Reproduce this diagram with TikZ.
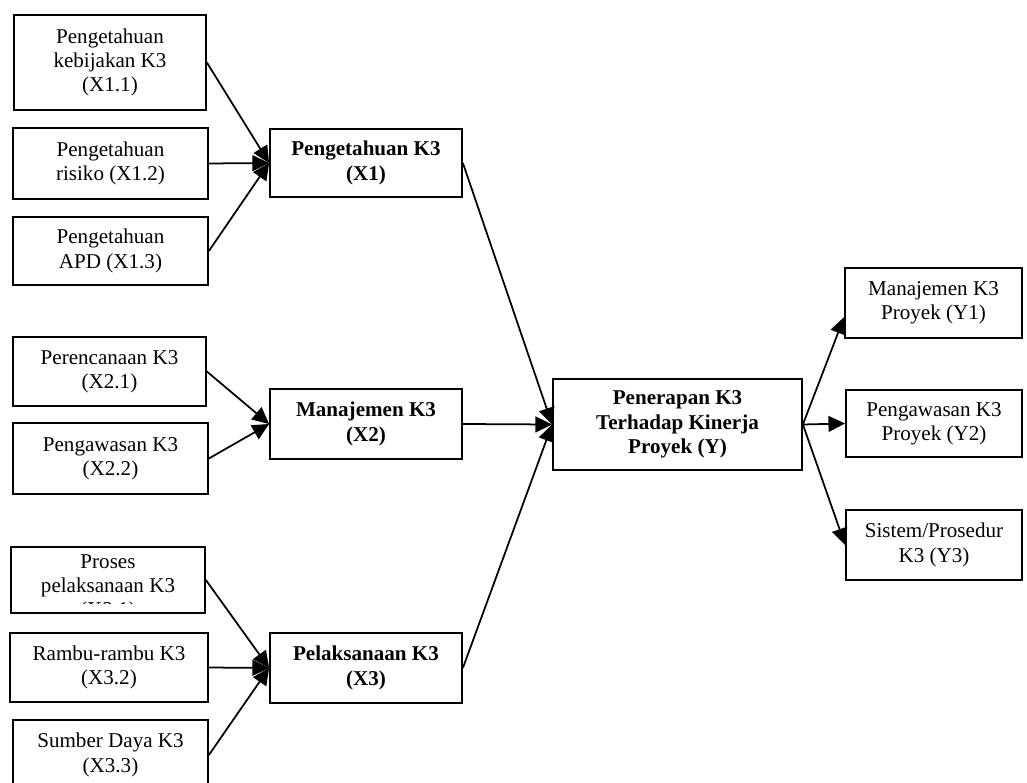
\documentclass[tikz,border=0pt]{standalone}
\usepackage{fontspec}
\setmainfont{Liberation Serif}
\usetikzlibrary{arrows.meta}
\tikzset{
  sz/.style 2 args={minimum width=#1*0.02cm, minimum height=#2*0.02cm},
  indik/.style={draw, line width=1pt, align=center, inner sep=0pt,
    font=\fontsize{12}{13.8}\selectfont},
  varbox/.style={indik, font=\fontsize{12}{13.8}\selectfont\bfseries},
  link/.style={line width=1pt, -{Triangle[length=9.5pt,width=9pt]}},
}

\begin{document}
\begin{tikzpicture}[x=0.02cm, y=-0.02cm]
  \useasboundingbox (0,0) rectangle (1027,783);

  % indicators X1
  \node[indik, sz={192}{95}] (X11) at (110,62.5) {Pengetahuan\\kebijakan K3\\(X1.1)};
  \node[indik, sz={195}{71}] (X12) at (110.5,163.5) {Pengetahuan\\risiko (X1.2)};
  \node[indik, sz={195}{68}] (X13) at (110.5,251) {Pengetahuan\\APD (X1.3)};

  % indicators X2
  \node[indik, sz={193}{69}] (X21) at (109.5,371.5) {Perencanaan K3\\(X2.1)};
  \node[indik, sz={195}{71}] (X22) at (110.5,458.5) {Pengawasan K3\\(X2.2)};

  % indicators X3 (first one overflows its box)
  \node[indik, sz={194}{66}] (X31) at (108,580) {};
  \begin{scope}
    \clip (13,549) rectangle (203,603.5);
    \node[align=center, font=\fontsize{12}{13.8}\selectfont] (X31t) at (108,588) {Proses\\pelaksanaan K3\\(X3.1)};
  \end{scope}
  \node[indik, sz={198}{69}] (X32) at (109,667.5) {Rambu-rambu K3\\(X3.2)};
  \node[indik, sz={195}{70}] (X33) at (110.5,755) {Sumber Daya K3\\(X3.3)};

  % variables
  \node[varbox, sz={192}{68}] (X1) at (366,163) {Pengetahuan K3\\(X1)};
  \node[varbox, sz={192}{70}] (X2) at (366,424) {Manajemen K3\\(X2)};
  \node[varbox, sz={192}{70}] (X3) at (366,668) {Pelaksanaan K3\\(X3)};
  \node[varbox, sz={249}{91}] (Y) at (677.5,424.5) {Penerapan K3\\Terhadap Kinerja\\Proyek (Y)};

  % indicators Y
  \node[indik, sz={177}{70}] (Y1) at (933.5,303) {Manajemen K3\\Proyek (Y1)};
  \node[indik, sz={176}{67}] (Y2) at (934,423.5) {Pengawasan K3\\Proyek (Y2)};
  \node[indik, sz={176}{70}] (Y3) at (934,545) {Sistem/Prosedur\\K3 (Y3)};

  \draw[link] (X11.east) -- (X1.west);
  \draw[link] (X12.east) -- (X1.west);
  \draw[link] (X13.east) -- (X1.west);
  \draw[link] (X21.east) -- (X2.west);
  \draw[link] (X22.east) -- (X2.west);
  \draw[link] (X31.east) -- (X3.west);
  \draw[link] (X32.east) -- (X3.west);
  \draw[link] (X33.east) -- (X3.west);

  \draw[link] (X1.east) -- (Y.west);
  \draw[link] (X2.east) -- (Y.west);
  \draw[link] (X3.east) -- (Y.west);

  \draw[link] (Y.east) -- ([yshift=-8pt]Y1.west);
  \draw[link] (Y.east) -- (Y2.west);
  \draw[link] (Y.east) -- (Y3.west);
\end{tikzpicture}
\end{document}
